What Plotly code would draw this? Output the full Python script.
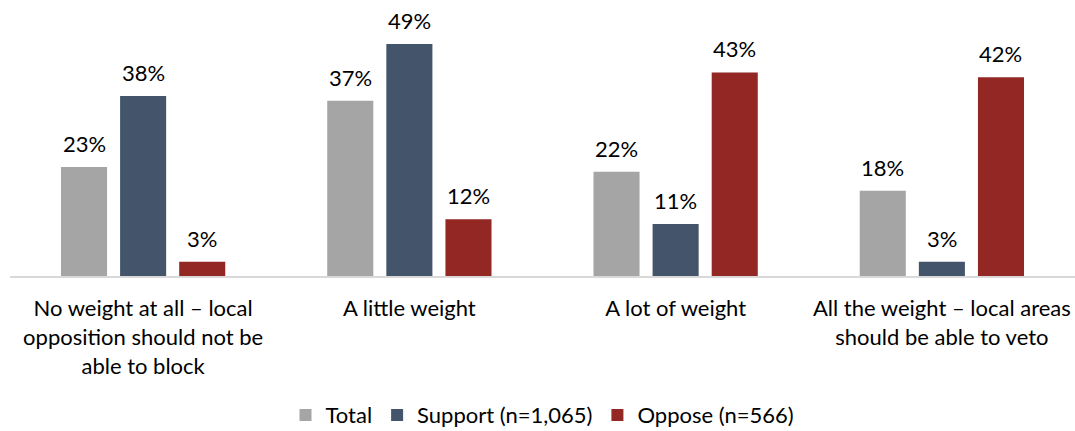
import plotly.graph_objects as go

categories = [
    "No weight at all – local<br>opposition should not be<br>able to block",
    "A little weight",
    "A lot of weight",
    "All the weight – local areas<br>should be able to veto",
]
series_names = ["Total", "Support (n=1,065)", "Oppose (n=566)"]
total = [23, 37, 22, 18]
support = [38, 49, 11, 3]
oppose = [3, 12, 43, 42]

colors = ["#A5A5A5", "#44546A", "#922723"]
offsets = [-0.222, 0.0, 0.222]
bar_width = 0.173
font_family = "Lato, 'Open Sans', sans-serif"
font_size = 22

fig = go.Figure()
annotations = []
for name, vals, col, off in zip(series_names, [total, support, oppose], colors, offsets):
    xs = [i + off for i in range(len(categories))]
    fig.add_trace(go.Bar(
        x=xs, y=vals, name=name, width=bar_width,
        marker=dict(color=col, line=dict(width=0)),
    ))
    for x, v in zip(xs, vals):
        annotations.append(dict(
            x=x, y=v, xref="x", yref="y", text=f"{v}%", showarrow=False,
            yanchor="bottom", yshift=8,
            font=dict(family=font_family, size=font_size, color="#000000"),
        ))

fig.update_layout(
    width=1075, height=431,
    margin=dict(l=10, r=0, t=0, b=155, autoexpand=False),
    paper_bgcolor="white", plot_bgcolor="white",
    barmode="overlay",
    font=dict(family=font_family, size=font_size, color="#000000"),
    annotations=annotations,
    showlegend=True,
    legend=dict(
        orientation="h", x=0.5, xanchor="center", y=-0.58, yanchor="bottom",
        font=dict(family=font_family, size=font_size, color="#000000"),
        itemwidth=30, traceorder="normal",
    ),
    xaxis=dict(
        range=[-0.5, 3.5], tickmode="array",
        tickvals=list(range(len(categories))), ticktext=categories,
        showgrid=False, zeroline=False, showline=True,
        linecolor="#D9D9D9", linewidth=2, ticks="",
        tickfont=dict(family=font_family, size=font_size, color="#000000"),
        ticklabelstandoff=12,
        automargin=False,
    ),
    yaxis=dict(range=[0, 58.3], visible=False, showgrid=False, zeroline=False),
)

fig.write_html("out.html")
